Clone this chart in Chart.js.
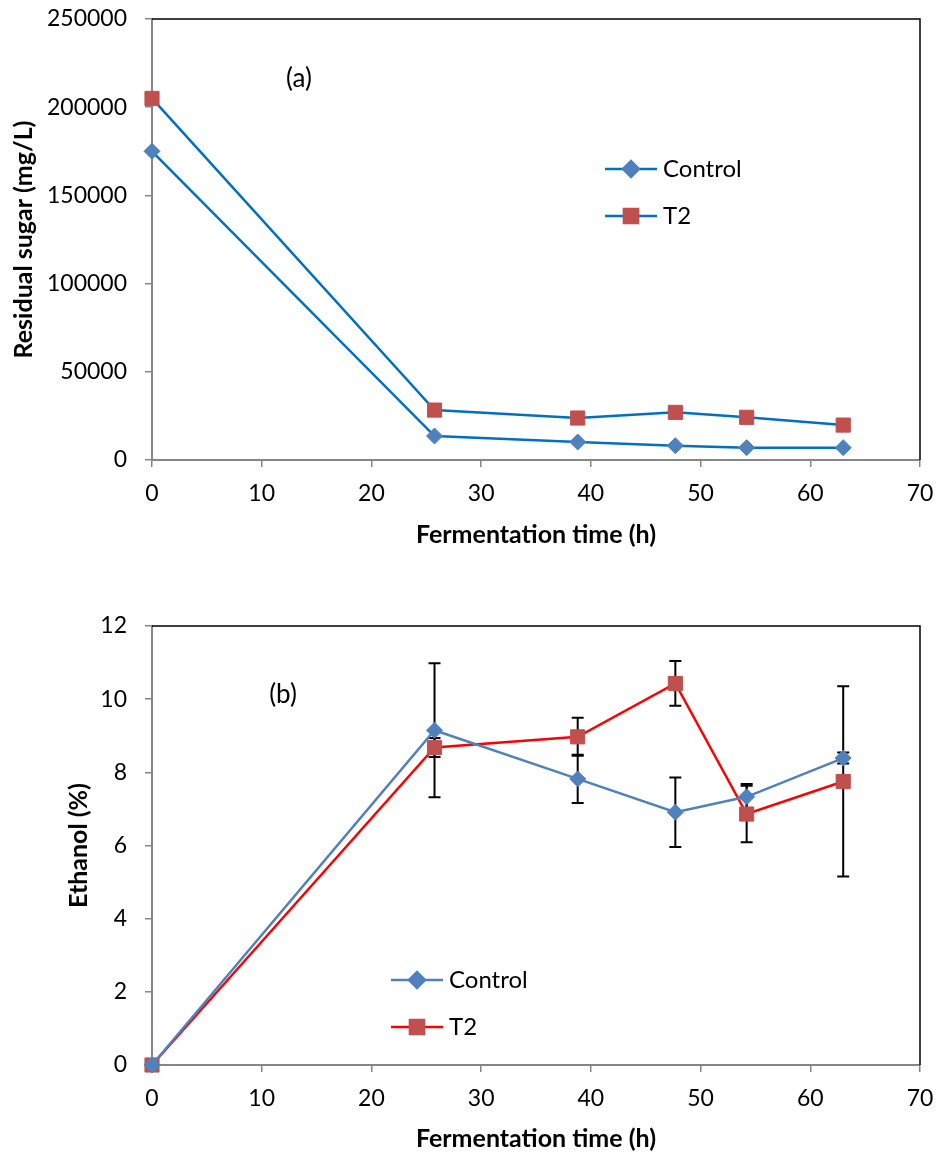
<!DOCTYPE html>
<html>
<head>
<meta charset="utf-8">
<script src="https://cdn.jsdelivr.net/npm/chart.js@4.4.0/dist/chart.umd.min.js"></script>
<style>
  body { margin: 0; background: #fff; }
  #wrap { position: relative; width: 938px; height: 1154px; }
  canvas { position: absolute; left: 0; }
</style>
</head>
<body>
<div id="wrap">
  <canvas id="grafico-azucar" width="938" height="560" style="top:0"></canvas>
  <canvas id="grafico-etanol" width="938" height="574" style="top:580px"></canvas>
</div>
<script>
// datos
const tiempos = [0, 25.75, 38.8, 47.7, 54.2, 63.0];

// (a) azucar residual mg/L
const azucarControl = [175000, 13600, 10200, 8100, 7000, 7000];
const azucarT2 = [205000, 28300, 23800, 27000, 24200, 19800];
const ticksAzucar = [0, 50000, 100000, 150000, 200000, 250000];

// (b) etanol %
const etanolControl = [0, 9.15, 7.82, 6.91, 7.33, 8.39];
const etanolT2 = [0, 8.68, 8.97, 10.43, 6.86, 7.75];
const errorControl = [0, 1.83, 0.66, 0.95, 0.35, 0.15];
const errorT2 = [0, 0.26, 0.52, 0.61, 0.77, 2.6];
const ticksEtanol = [0, 2, 4, 6, 8, 10, 12];

const ticksTiempo = [0, 10, 20, 30, 40, 50, 60, 70];

const fuente = 'Lato, "Open Sans", sans-serif';
const gris = '#868686';

// dibuja marco negro, barras de error, leyenda y etiqueta
const extras = {
  id: 'extras',
  beforeDatasetsDraw(chart, args, opts) {
    const ctx = chart.ctx;
    const x = chart.scales.x, y = chart.scales.y;
    (opts.errores || []).forEach((errs, d) => {
      const vals = chart.data.datasets[d].data;
      ctx.save();
      ctx.strokeStyle = '#000';
      ctx.lineWidth = 2;
      vals.forEach((p, i) => {
        const e = errs[i];
        if (!e) return;
        const px = x.getPixelForValue(p.x);
        const y1 = y.getPixelForValue(p.y + e);
        const y2 = y.getPixelForValue(p.y - e);
        ctx.beginPath();
        ctx.moveTo(px, y1); ctx.lineTo(px, y2);
        ctx.moveTo(px - 6, y1); ctx.lineTo(px + 6, y1);
        ctx.moveTo(px - 6, y2); ctx.lineTo(px + 6, y2);
        ctx.stroke();
      });
      ctx.restore();
    });
  },
  afterDraw(chart, args, opts) {
    const ctx = chart.ctx;
    const a = chart.chartArea;
    ctx.save();
    // marco superior y derecho
    ctx.strokeStyle = '#000';
    ctx.lineWidth = 1.5;
    ctx.beginPath();
    ctx.moveTo(a.left, a.top);
    ctx.lineTo(a.right, a.top);
    ctx.lineTo(a.right, a.bottom);
    ctx.stroke();

    // etiqueta (a) / (b)
    ctx.fillStyle = '#000';
    ctx.font = '26px ' + fuente;
    ctx.textAlign = 'center';
    ctx.textBaseline = 'middle';
    ctx.fillText(opts.etiqueta.texto, opts.etiqueta.x, opts.etiqueta.y);

    // leyenda
    const ley = opts.leyenda;
    chart.data.datasets.forEach((ds, i) => {
      const ly = ley.y + i * 47;
      ctx.strokeStyle = ds.borderColor;
      ctx.lineWidth = ds.borderWidth;
      ctx.beginPath();
      ctx.moveTo(ley.x, ly);
      ctx.lineTo(ley.x + 52, ly);
      ctx.stroke();
      ctx.fillStyle = ds.pointBackgroundColor;
      ctx.strokeStyle = ds.pointBorderColor;
      Chart.helpers.drawPoint(ctx, {
        pointStyle: ds.pointStyle, radius: ds.pointRadius, rotation: 0, borderWidth: 1
      }, ley.x + 26, ly);
      ctx.fillStyle = '#000';
      ctx.font = '24px ' + fuente;
      ctx.textAlign = 'left';
      ctx.fillText(ds.label, ley.x + 58, ly);
    });
    ctx.restore();
  }
};

function serie(label, valores, linea) {
  const esControl = label === 'Control';
  return {
    label: label,
    data: tiempos.map((t, i) => ({ x: t, y: valores[i] })),
    borderColor: linea,
    borderWidth: 2.5,
    tension: 0,
    clip: false,
    pointStyle: esControl ? 'rectRot' : 'rect',
    pointRadius: esControl ? 8 : 10,
    pointHoverRadius: esControl ? 8 : 10,
    pointBackgroundColor: esControl ? '#4F81BD' : '#C0504D',
    pointBorderColor: esControl ? '#4F81BD' : '#C0504D',
    pointBorderWidth: 1
  };
}

// quita el relleno extra que chart.js agrega por las etiquetas
function sinRelleno(s) {
  s.paddingTop = 0; s.paddingBottom = 0;
  s.paddingLeft = 0; s.paddingRight = 0;
}

function escalas(tituloY, ticksY, padTituloY, altoX, padTituloX) {
  return {
    x: {
      type: 'linear',
      min: 0, max: 70,
      afterBuildTicks: s => { s.ticks = ticksTiempo.map(v => ({ value: v })); },
      afterFit: s => { s.height = altoX; sinRelleno(s); },
      grid: { drawOnChartArea: false, drawTicks: true, tickLength: 7, color: gris, lineWidth: 1.5 },
      border: { color: gris, width: 2 },
      ticks: { color: '#000', padding: 13, font: { family: fuente, size: 23 }, maxRotation: 0 },
      title: {
        display: true, text: 'Fermentation time (h)', color: '#000',
        font: { family: fuente, size: 25, weight: 'bold' },
        padding: { top: 0, bottom: padTituloX }
      }
    },
    y: {
      min: ticksY[0], max: ticksY[ticksY.length - 1],
      afterBuildTicks: s => { s.ticks = ticksY.map(v => ({ value: v })); },
      afterFit: s => { s.width = 152; sinRelleno(s); },
      grid: { drawOnChartArea: false, drawTicks: true, tickLength: 7, color: gris, lineWidth: 1.5 },
      border: { color: gris, width: 2 },
      ticks: { color: '#000', padding: 18, font: { family: fuente, size: 23 }, callback: v => String(v) },
      title: {
        display: true, text: tituloY, color: '#000',
        font: { family: fuente, size: 25, weight: 'bold' },
        padding: { top: padTituloY, bottom: 0 }
      }
    }
  };
}

const comunes = {
  responsive: false,
  animation: false,
  events: [],
  plugins: { legend: { display: false }, tooltip: { enabled: false } }
};

new Chart(document.getElementById('grafico-azucar'), {
  type: 'line',
  data: {
    datasets: [
      serie('Control', azucarControl, '#0070C0'),
      serie('T2', azucarT2, '#0070C0')
    ]
  },
  options: {
    ...comunes,
    layout: { padding: { top: 19, right: 18, left: 0, bottom: 0 } },
    scales: escalas('Residual sugar (mg/L)', ticksAzucar, 9, 100, 10),
    plugins: {
      ...comunes.plugins,
      extras: {
        etiqueta: { texto: '(a)', x: 299, y: 79 },
        leyenda: { x: 605, y: 169 }
      }
    }
  },
  plugins: [extras]
});

new Chart(document.getElementById('grafico-etanol'), {
  type: 'line',
  data: {
    datasets: [
      serie('Control', etanolControl, '#4F81BD'),
      serie('T2', etanolT2, '#FF0000')
    ]
  },
  options: {
    ...comunes,
    layout: { padding: { top: 46, right: 18, left: 0, bottom: 0 } },
    scales: escalas('Ethanol (%)', ticksEtanol, 64, 89, 0),
    plugins: {
      ...comunes.plugins,
      extras: {
        etiqueta: { texto: '(b)', x: 283, y: 115 },
        leyenda: { x: 391, y: 400 },
        errores: [errorControl, errorT2]
      }
    }
  },
  plugins: [extras]
});
</script>
</body>
</html>
